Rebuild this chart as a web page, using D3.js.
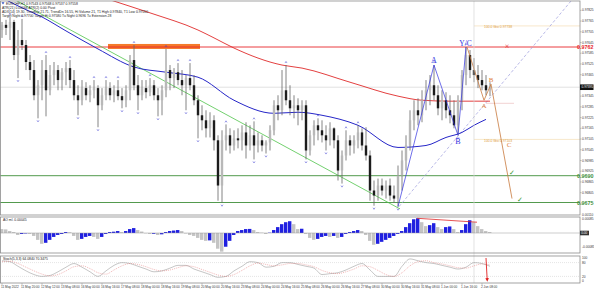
<!DOCTYPE html>
<html>
<head>
<meta charset="utf-8">
<script src="https://cdnjs.cloudflare.com/ajax/libs/d3/7.8.5/d3.min.js"></script>
<style>
  body { margin: 0; background: #fff; }
  svg { display: block; font-family: "Liberation Sans", Arial, sans-serif; }
</style>
</head>
<body>
<script>
// EURCHF H1 candles (one candle per ~4px)
const opens = [0.97715,0.97744,0.97727,0.97760,0.97575,0.97659,0.97631,0.97536,0.97491,0.97350,
  0.97406,0.97491,0.97378,0.97463,0.97491,0.97435,0.97479,0.97502,0.97435,0.97350,
  0.97322,0.97390,0.97350,0.97378,0.97390,0.97294,0.97350,0.97390,0.97350,0.97378,
  0.97345,0.97322,0.97378,0.97547,0.97406,0.97350,0.97390,0.97367,0.97406,0.97350,
  0.97322,0.97378,0.97491,0.97446,0.97479,0.97435,0.97406,0.97446,0.97406,0.97322,
  0.97238,0.97210,0.97165,0.97210,0.97098,0.96845,0.97098,0.97126,0.97069,0.97109,
  0.97098,0.97142,0.97069,0.97126,0.97069,0.97098,0.97069,0.97086,0.97154,0.97294,
  0.97266,0.97378,0.97322,0.97277,0.97294,0.97266,0.97294,0.97041,0.97126,0.97182,
  0.97154,0.97126,0.97098,0.97165,0.97098,0.96929,0.97013,0.97098,0.97069,0.97098,
  0.97142,0.97069,0.97013,0.96817,0.96789,0.96845,0.96817,0.96845,0.96789,0.96772,
  0.96901,0.96985,0.97069,0.97210,0.97266,0.97238,0.97322,0.97378,0.97406,0.97350,
  0.97277,0.97322,0.97266,0.97238,0.97182,0.97322,0.97463,0.97575,0.97491,0.97463,
  0.97435,0.97406,0.97378];
const highs = [0.97760,0.97772,0.97788,0.97772,0.97715,0.97777,0.97659,0.97575,0.97547,0.97435,
  0.97547,0.97575,0.97519,0.97536,0.97519,0.97502,0.97536,0.97547,0.97491,0.97406,
  0.97435,0.97423,0.97406,0.97435,0.97406,0.97390,0.97435,0.97423,0.97406,0.97435,
  0.97390,0.97406,0.97575,0.97631,0.97463,0.97435,0.97435,0.97446,0.97435,0.97390,
  0.97406,0.97609,0.97519,0.97502,0.97530,0.97491,0.97463,0.97530,0.97463,0.97350,
  0.97294,0.97266,0.97255,0.97238,0.97126,0.97154,0.97187,0.97165,0.97154,0.97165,
  0.97182,0.97199,0.97182,0.97204,0.97142,0.97126,0.97098,0.97182,0.97322,0.97350,
  0.97491,0.97519,0.97406,0.97350,0.97333,0.97322,0.97322,0.97154,0.97210,0.97221,
  0.97210,0.97182,0.97199,0.97171,0.97126,0.97041,0.97154,0.97126,0.97126,0.97182,
  0.97165,0.97171,0.97041,0.96873,0.96884,0.96884,0.96873,0.96884,0.96845,0.96957,
  0.97041,0.97126,0.97266,0.97322,0.97333,0.97378,0.97435,0.97463,0.97519,0.97406,
  0.97378,0.97367,0.97350,0.97322,0.97350,0.97491,0.97620,0.97603,0.97558,0.97519,
  0.97491,0.97463,0.97423];
const lows = [0.97671,0.97687,0.97659,0.97547,0.97446,0.97603,0.97491,0.97435,0.97322,0.97221,
  0.97322,0.97232,0.97350,0.97406,0.97378,0.97378,0.97406,0.97390,0.97322,0.97238,
  0.97294,0.97322,0.97311,0.97333,0.97171,0.97266,0.97322,0.97322,0.97311,0.97322,
  0.97277,0.97283,0.97322,0.97378,0.97266,0.97322,0.97333,0.97345,0.97322,0.97232,
  0.97238,0.97339,0.97378,0.97390,0.97406,0.97350,0.97266,0.97378,0.97294,0.97109,
  0.97154,0.97114,0.97114,0.97041,0.96760,0.96749,0.97041,0.97024,0.97041,0.97053,
  0.97041,0.96996,0.97041,0.96991,0.97030,0.97036,0.97024,0.97041,0.97126,0.97210,
  0.97238,0.97294,0.97238,0.97221,0.97182,0.97210,0.96991,0.97013,0.97069,0.97098,
  0.97086,0.97041,0.97069,0.97053,0.96873,0.96856,0.96985,0.97013,0.97024,0.97053,
  0.97041,0.96985,0.96760,0.96732,0.96760,0.96789,0.96772,0.96760,0.96749,0.96727,
  0.96817,0.96929,0.97041,0.97154,0.97182,0.97199,0.97266,0.97294,0.97322,0.97238,
  0.97210,0.97221,0.97193,0.97165,0.97126,0.97266,0.97406,0.97446,0.97423,0.97390,
  0.97378,0.97350,0.97345];
const closes = [0.97744,0.97727,0.97760,0.97575,0.97659,0.97631,0.97536,0.97491,0.97350,0.97406,
  0.97491,0.97378,0.97463,0.97491,0.97435,0.97479,0.97502,0.97435,0.97350,0.97322,
  0.97390,0.97350,0.97378,0.97390,0.97294,0.97350,0.97390,0.97350,0.97378,0.97345,
  0.97322,0.97378,0.97547,0.97406,0.97350,0.97390,0.97367,0.97406,0.97350,0.97322,
  0.97378,0.97491,0.97446,0.97479,0.97435,0.97406,0.97446,0.97406,0.97322,0.97238,
  0.97210,0.97165,0.97210,0.97098,0.96845,0.97098,0.97126,0.97069,0.97109,0.97098,
  0.97142,0.97069,0.97126,0.97069,0.97098,0.97069,0.97086,0.97154,0.97294,0.97266,
  0.97378,0.97322,0.97277,0.97294,0.97266,0.97294,0.97041,0.97126,0.97182,0.97154,
  0.97126,0.97098,0.97165,0.97098,0.96929,0.97013,0.97098,0.97069,0.97098,0.97142,
  0.97069,0.97013,0.96817,0.96789,0.96845,0.96817,0.96845,0.96789,0.96772,0.96901,
  0.96985,0.97069,0.97210,0.97266,0.97238,0.97322,0.97378,0.97406,0.97350,0.97277,
  0.97322,0.97266,0.97238,0.97182,0.97322,0.97463,0.97575,0.97491,0.97463,0.97435,
  0.97406,0.97378,0.97395];

// moving averages (bar index, price)
const maRedIdx = [0, 27, 37, 49, 53, 58, 70, 75, 87, 99, 105, 112, 122];
const maRedVal = [0.98090, 0.97884, 0.97811, 0.97715, 0.97671, 0.97614, 0.97519, 0.97502, 0.97423, 0.97345, 0.97322, 0.97317, 0.97317];
const maBlueIdx = [0, 5, 10, 16, 24, 33, 41, 49, 58, 68, 74, 80, 89, 99, 106, 111, 115, 118, 121];
const maBlueVal = [0.97895, 0.97839, 0.97788, 0.97710, 0.97609, 0.97508, 0.97479, 0.97451, 0.97322, 0.97249, 0.97255, 0.97238, 0.97182, 0.97058, 0.97069, 0.97114, 0.97142, 0.97182, 0.97215];

// drawn objects
const levelRed = 0.9762;
const levelsGreen = [0.9690, 0.9675];
const trendIdx = [3.25, 99.5], trendVal = [0.97884, 0.96714];
const channelIdx = [99.25, 142.5], channelVal = [0.96727, 0.97884];
const zoneIdx = [26.5, 49.5], zoneVal = [0.97637, 0.97609];
const fiboVal = [0.97738, 0.97103];
const fiboText = ["100.0 fibo 0.97738", "100.0 fibo 0.97103"];
const waveIdx = [99, 108, 114, 116];
const projIdx = [116.25, 120.5, 122.25, 127.5];
const projVal = [0.97620, 0.97322, 0.97412, 0.96772];
const lastIdx = 118;

// Awesome Oscillator per bar
const ao = [0.00024,0.00022,0.00012,0.00006,-0.00012,-0.00006,-0.00003,-0.00006,-0.00018,-0.00042,
  -0.00066,-0.00060,-0.00042,-0.00024,-0.00012,-0.00006,0.00006,0.00005,-0.00018,-0.00042,
  -0.00036,-0.00024,-0.00018,-0.00024,-0.00036,-0.00024,-0.00006,0.00006,0.00008,0.00012,
  0.00006,0.00012,0.00024,0.00030,0.00018,0.00009,-0.00002,-0.00006,-0.00005,-0.00012,
  -0.00008,0.00006,0.00012,0.00015,0.00018,0.00012,-0.00003,-0.00012,-0.00018,-0.00030,
  -0.00042,-0.00048,-0.00045,-0.00060,-0.00096,-0.00114,-0.00084,-0.00048,-0.00012,0.00012,
  0.00018,0.00024,0.00025,0.00018,0.00006,0.00002,-0.00006,0.00002,0.00018,0.00036,
  0.00054,0.00066,0.00072,0.00054,0.00024,0.00026,-0.00006,-0.00030,-0.00042,-0.00036,
  -0.00024,-0.00018,-0.00024,-0.00018,-0.00030,-0.00024,-0.00006,0.00006,0.00012,0.00018,
  0.00012,-0.00012,-0.00048,-0.00072,-0.00066,-0.00054,-0.00042,-0.00030,-0.00018,-0.00006,
  0.00012,0.00036,0.00060,0.00084,0.00090,0.00066,0.00042,0.00048,0.00060,0.00036,
  0.00024,0.00036,0.00040,0.00024,0.00006,0.00018,0.00054,0.00078,0.00066,0.00042,
  0.00024,0.00012,0.00006];
const aoDivIdx = [103.75, 118.75], aoDivVal = [0.00090, 0.00066];
const aoTicks = [0.0011, 0.00085, 0, -0.00085];
const aoTickText = ["0.00110", "0.00085", "0.00", "-0.00085"];

// Stochastic, one sample every 2 bars
const stochK = [88,84,64,44,28,20,24,40,60,76,60,40,20,44,68,80,76,64,52,40,
  44,56,68,68,52,40,28,16,20,44,64,84,80,60,64,80,80,72,64,56,
  28,32,36,48,64,76,48,20,20,20,64,96,88,80,76,68,60,52,60,80,76,64];
const stochD = [84,86,76,60,44,30,22,28,44,62,66,54,36,30,48,66,76,72,62,50,
  44,48,58,66,62,50,38,26,20,28,46,66,78,72,66,70,76,76,70,62,
  46,36,32,40,52,66,62,46,28,20,36,66,84,88,80,74,66,58,56,66,74,70];
const stochTicks = [100, 80, 20, 0];

const priceTicks = [0.97825,0.97765,0.97705,0.97645,0.97585,0.97525,0.97465,0.97405,0.97345,0.97285,
  0.97225,0.97165,0.97105,0.97045,0.96985,0.96925,0.96865,0.96805,0.96745];
const timeIdx = d3.range(0, 121, 5);
const timeLabels = ["11 May 2022","11 May 20:00","12 May 12:00","13 May 08:00","16 May 00:00",
  "16 May 16:00","17 May 08:00","18 May 00:00","18 May 16:00","19 May 08:00","20 May 00:00",
  "20 May 16:00","23 May 08:00","24 May 00:00","24 May 16:00","25 May 08:00","26 May 00:00",
  "26 May 16:00","27 May 08:00","30 May 00:00","30 May 16:00","31 May 08:00","1 Jun 00:00",
  "1 Jun 16:00","2 Jun 08:00"];

const header = ["EURCHF,H1  0.97543 0.97568 0.97537 0.97558",
  "ATR(21) 0.00068  ATR(2) 0.00  Pivot",
  "ADX(14) 19.30, TrendUp 21.71, TrendDn 16.55, Hi Volume 21, T1 High 0.97840, T1 Low 0.97050",
  "Target Night 0.97700  Target Hi 0.97580  Tu Night 0.9696  Tu Extension 28"];

const width = 594, height = 290, right = 580;
const mainTop = 1, mainBottom = 215, aoTop = 217, aoBottom = 253, stTop = 256, stBottom = 283;

const svg = d3.select("body").append("svg").attr("width", width).attr("height", height);

const x = d3.scaleLinear().domain([0, 144.5]).range([2, right]);
const y = d3.scaleLinear().domain([0.9675, 0.9762]).range([202.5, 47]);
const yAo = d3.scaleLinear().domain([-0.0011, 0.0011]).range([251, 215]);
const ySt = d3.scaleLinear().domain([0, 100]).range([281, 258]);

svg.append("clipPath").attr("id", "cm").append("rect")
  .attr("x", 0).attr("y", mainTop).attr("width", right).attr("height", mainBottom - mainTop);
svg.append("clipPath").attr("id", "ca").append("rect")
  .attr("x", 0).attr("y", aoTop).attr("width", right).attr("height", aoBottom - aoTop);

const main = svg.append("g").attr("clip-path", "url(#cm)");
const last = closes[closes.length - 1];

// current time / bid lines
svg.append("line").attr("x1", x(lastIdx)).attr("x2", x(lastIdx)).attr("y1", mainTop).attr("y2", stBottom)
  .attr("stroke", "#d6d6d6").attr("stroke-width", 0.7);
main.append("line").attr("x1", 0).attr("x2", right).attr("y1", y(last)).attr("y2", y(last))
  .attr("stroke", "#cfcfcf").attr("stroke-width", 0.6);

// fibo lines
fiboVal.forEach(function (v, k) {
  main.append("line").attr("x1", x(lastIdx)).attr("x2", right).attr("y1", y(v)).attr("y2", y(v))
    .attr("stroke", "#f3d9a8").attr("stroke-width", 0.6);
  main.append("text").attr("x", x(lastIdx) + 10).attr("y", y(v) + 2.5).text(fiboText[k])
    .attr("font-size", 3.4).attr("fill", "#e0a040");
});

// zone
main.append("rect").attr("x", x(zoneIdx[0])).attr("width", x(zoneIdx[1]) - x(zoneIdx[0]))
  .attr("y", y(zoneVal[0])).attr("height", y(zoneVal[1]) - y(zoneVal[0])).attr("fill", "#f57a2a");

// levels
main.append("line").attr("x1", 0).attr("x2", right).attr("y1", y(levelRed)).attr("y2", y(levelRed))
  .attr("stroke", "#e8262a").attr("stroke-width", 0.9);
levelsGreen.forEach(function (v) {
  main.append("line").attr("x1", 0).attr("x2", right).attr("y1", y(v)).attr("y2", y(v))
    .attr("stroke", "#3f8f3a").attr("stroke-width", 0.9);
});

// trendline and channel
main.append("line").attr("x1", x(trendIdx[0])).attr("y1", y(trendVal[0])).attr("x2", x(trendIdx[1])).attr("y2", y(trendVal[1]))
  .attr("stroke", "#4fc44a").attr("stroke-width", 0.8);
main.append("line").attr("x1", x(channelIdx[0])).attr("y1", y(channelVal[0])).attr("x2", x(channelIdx[1])).attr("y2", y(channelVal[1]))
  .attr("stroke", "#9c9cdc").attr("stroke-width", 0.7).attr("stroke-dasharray", "3,2");

// moving averages
const maLine = d3.line().x(d => x(d[0])).y(d => y(d[1])).curve(d3.curveMonotoneX);
main.append("path").datum(d3.zip(maRedIdx, maRedVal)).attr("d", maLine)
  .attr("fill", "none").attr("stroke", "#e02a2a").attr("stroke-width", 0.9);
main.append("line").attr("x1", x(121)).attr("x2", x(128)).attr("y1", y(0.97305)).attr("y2", y(0.97305))
  .attr("stroke", "#e8b4b4").attr("stroke-width", 0.6);
main.append("path").datum(d3.zip(maBlueIdx, maBlueVal)).attr("d", maLine)
  .attr("fill", "none").attr("stroke", "#2626c8").attr("stroke-width", 1);

// candles
const idx = d3.range(closes.length);
main.selectAll("line.wick").data(idx).enter().append("line").attr("class", "wick")
  .attr("x1", i => x(i)).attr("x2", i => x(i)).attr("y1", i => y(highs[i])).attr("y2", i => y(lows[i]))
  .attr("stroke", "#666").attr("stroke-width", 0.8);
main.selectAll("rect.body").data(idx).enter().append("rect").attr("class", "body")
  .attr("x", i => x(i) - 1.2).attr("width", 2.4)
  .attr("y", i => y(Math.max(opens[i], closes[i])))
  .attr("height", i => Math.max(0.7, Math.abs(y(opens[i]) - y(closes[i]))))
  .attr("fill", i => closes[i] >= opens[i] ? "#b8b8b8" : "#1c1c1c");

// fractals
const up = [], dn = [];
for (let i = 2; i < closes.length - 2; i++) {
  if (highs[i] > highs[i - 1] && highs[i] > highs[i - 2] && highs[i] >= highs[i + 1] && highs[i] >= highs[i + 2]) up.push(i);
  if (lows[i] < lows[i - 1] && lows[i] < lows[i - 2] && lows[i] <= lows[i + 1] && lows[i] <= lows[i + 2]) dn.push(i);
}
main.selectAll("path.fu").data(up).enter().append("path")
  .attr("d", i => "M" + (x(i) - 1) + "," + (y(highs[i]) - 2) + "L" + x(i) + "," + (y(highs[i]) - 3.6) + "L" + (x(i) + 1) + "," + (y(highs[i]) - 2))
  .attr("fill", "none").attr("stroke", "#3a3ad0").attr("stroke-width", 0.5);
main.selectAll("path.fd").data(dn).enter().append("path")
  .attr("d", i => "M" + (x(i) - 1) + "," + (y(lows[i]) + 2) + "L" + x(i) + "," + (y(lows[i]) + 3.6) + "L" + (x(i) + 1) + "," + (y(lows[i]) + 2))
  .attr("fill", "none").attr("stroke", "#3a3ad0").attr("stroke-width", 0.5);

// wave count
const wavePts = waveIdx.map((i, k) => [i, k % 2 === 0 ? lows[i] : highs[i]]);
wavePts[3][1] = highs[waveIdx[3]];
main.append("path").datum(wavePts).attr("d", d3.line().x(d => x(d[0])).y(d => y(d[1])))
  .attr("fill", "none").attr("stroke", "#3030e0").attr("stroke-width", 0.7);
main.append("path").datum(d3.zip(projIdx, projVal)).attr("d", d3.line().x(d => x(d[0])).y(d => y(d[1])))
  .attr("fill", "none").attr("stroke", "#c8783c").attr("stroke-width", 0.8);

function lbl(t, px, py, c, s) {
  main.append("text").attr("x", px).attr("y", py).text(t).attr("fill", c)
    .attr("font-size", s).attr("text-anchor", "middle").attr("font-family", "Liberation Serif, serif");
}
lbl("A", x(waveIdx[1]), y(highs[waveIdx[1]]) - 2, "#3030e0", 8);
lbl("B", x(waveIdx[2]), y(lows[waveIdx[2]]) + 9, "#3030e0", 8);
lbl("Y/C", x(waveIdx[3]) - 0.5, y(highs[waveIdx[3]]) - 1.5, "#3030e0", 7.5);
lbl("A", x(projIdx[1]), y(projVal[1]) + 8, "#e08040", 7);
lbl("B", x(projIdx[2]), y(projVal[2]) - 2, "#e08040", 7);
lbl("C", x(projIdx[3]) - 3, y(0.97058), "#e08040", 7);
lbl("\u00d7", x(126.25), y(levelRed) + 2.2, "#e02020", 8);
lbl("\u2713", x(127.5), y(levelsGreen[0]) - 1, "#3a9a30", 7);
lbl("\u2713", x(129.5), y(levelsGreen[1]) - 1, "#3a9a30", 7);

// header text
header.forEach(function (t, k) {
  svg.append("text").attr("x", k === 0 ? 6 : 2).attr("y", 5 + k * 4).text(t)
    .attr("font-size", 3.4).attr("fill", "#222");
});
svg.append("path").attr("d", "M1.5,2.2L4.5,2.2L3,4.5Z").attr("fill", "#3050c0");

// AO panel
const ag = svg.append("g").attr("clip-path", "url(#ca)");
ag.selectAll("rect").data(idx).enter().append("rect")
  .attr("x", i => x(i) - 2).attr("width", 3.4)
  .attr("y", i => Math.min(yAo(ao[i]), yAo(0)))
  .attr("height", i => Math.abs(yAo(ao[i]) - yAo(0)))
  .attr("fill", i => (i > 0 && ao[i] > ao[i - 1]) ? "#2020e0" : "#c4c4c4");
ag.append("line").attr("x1", 0).attr("x2", right).attr("y1", yAo(0)).attr("y2", yAo(0))
  .attr("stroke", "#9a9a9a").attr("stroke-width", 0.5);
ag.append("line").attr("x1", x(aoDivIdx[0])).attr("y1", yAo(aoDivVal[0])).attr("x2", x(aoDivIdx[1])).attr("y2", yAo(aoDivVal[1]))
  .attr("stroke", "#e02a2a").attr("stroke-width", 0.8);
svg.append("text").attr("x", 3).attr("y", aoTop + 4).text("AO ml.  0.00045").attr("font-size", 3.4).attr("fill", "#222");

// Stochastic panel
[80, 20].forEach(function (v) {
  svg.append("line").attr("x1", 0).attr("x2", right).attr("y1", ySt(v)).attr("y2", ySt(v))
    .attr("stroke", "#bbb").attr("stroke-width", 0.4).attr("stroke-dasharray", "1,1");
});
const stX = k => x(k * 2);
svg.append("path").datum(stochK).attr("d", d3.line().x((d, k) => stX(k)).y(d => ySt(d)).curve(d3.curveMonotoneX))
  .attr("fill", "none").attr("stroke", "#a0a0a0").attr("stroke-width", 0.6);
svg.append("path").datum(stochD).attr("d", d3.line().x((d, k) => stX(k)).y(d => ySt(d)).curve(d3.curveMonotoneX))
  .attr("fill", "none").attr("stroke", "#e07070").attr("stroke-width", 0.5).attr("stroke-dasharray", "1,1");
svg.append("text").attr("x", 3).attr("y", stTop + 4).text("Stoch(5,3,3) 64.0840 70.3475").attr("font-size", 3.4).attr("fill", "#222");
svg.append("defs").append("marker").attr("id", "ah").attr("viewBox", "0 0 6 6").attr("refX", 3).attr("refY", 3)
  .attr("markerWidth", 4).attr("markerHeight", 4).attr("orient", "auto")
  .append("path").attr("d", "M0,0L6,3L0,6Z").attr("fill", "#e02020");
svg.append("line").attr("x1", x(121)).attr("y1", ySt(100)).attr("x2", x(121.3)).attr("y2", ySt(5))
  .attr("stroke", "#e02020").attr("stroke-width", 0.9).attr("marker-end", "url(#ah)");

// frames
const frame = "#8c8c8c";
[[mainTop, mainBottom], [aoTop, aoBottom], [stTop, stBottom]].forEach(function (p) {
  svg.append("rect").attr("x", 0.5).attr("y", p[0]).attr("width", right - 0.5).attr("height", p[1] - p[0])
    .attr("fill", "none").attr("stroke", frame).attr("stroke-width", 0.8);
});

// right axis labels (skip the ones hidden behind highlighted labels)
const marked = [levelRed, levelsGreen[0], levelsGreen[1], last];
const axg = svg.append("g").attr("font-size", 3.2).attr("fill", "#333");
priceTicks.forEach(function (v) {
  axg.append("line").attr("x1", right).attr("x2", right + 1.5).attr("y1", y(v)).attr("y2", y(v)).attr("stroke", frame).attr("stroke-width", 0.5);
  if (marked.some(m => Math.abs(y(m) - y(v)) < 4)) return;
  axg.append("text").attr("x", right + 2).attr("y", y(v) + 1.1).text(v.toFixed(5));
});
aoTicks.forEach(function (v, k) {
  if (v === 0) return;
  axg.append("text").attr("x", right + 2).attr("y", yAo(v) + 1.1).text(aoTickText[k]);
});
stochTicks.forEach(function (v) {
  axg.append("text").attr("x", right + 2).attr("y", ySt(v) + 1.1).text(v);
});
svg.append("rect").attr("x", right).attr("y", y(last) - 2.8).attr("width", 13.5).attr("height", 5.6).attr("fill", "#111");
svg.append("text").attr("x", right + 1.5).attr("y", y(last) + 1.2).text(last.toFixed(5)).attr("font-size", 3.2).attr("fill", "#fff");
svg.append("rect").attr("x", right).attr("y", yAo(0) - 2.3).attr("width", 9).attr("height", 4.6).attr("fill", "#333");
svg.append("text").attr("x", right + 1.2).attr("y", yAo(0) + 1.1).text(aoTickText[2]).attr("font-size", 3.2).attr("fill", "#fff");

svg.append("text").attr("x", width - 0.5).attr("y", y(levelRed) + 2).text(levelRed.toFixed(4)).attr("text-anchor", "end")
  .attr("font-size", 5.4).attr("font-weight", "bold").attr("fill", "#e8262a");
levelsGreen.forEach(function (v) {
  svg.append("text").attr("x", width - 0.5).attr("y", y(v) + 2).text(v.toFixed(4)).attr("text-anchor", "end")
    .attr("font-size", 5.4).attr("font-weight", "bold").attr("fill", "#3f8f3a");
});

// time axis
timeIdx.forEach(function (i, k) {
  svg.append("line").attr("x1", x(i)).attr("x2", x(i)).attr("y1", stBottom).attr("y2", stBottom + 2).attr("stroke", frame).attr("stroke-width", 0.5);
  svg.append("text").attr("x", x(i) - 1).attr("y", 288).text(timeLabels[k]).attr("font-size", 3.1).attr("fill", "#333");
});
</script>
</body>
</html>
